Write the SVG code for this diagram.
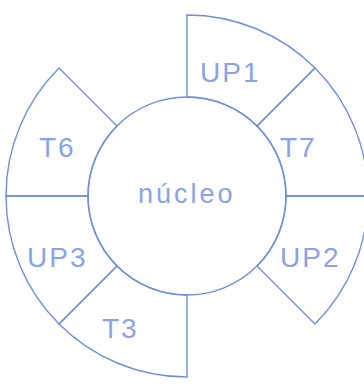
<svg xmlns="http://www.w3.org/2000/svg" width="364" height="385" viewBox="0 0 364 385">
<style>
.s{fill:none;stroke:#6e8fdc;stroke-width:1.4}
.t{font-family:"Liberation Sans",Arial,sans-serif;font-size:28px;fill:#8aa3e4;letter-spacing:2px}
</style>
<rect width="364" height="385" fill="#fff"/>
<g id="connectors"></g>
<g id="nucleo"><circle class="s" cx="187" cy="196" r="99"/><text class="t" x="138" y="203" style="font-size:27px;letter-spacing:3px">núcleo</text></g>
<g id="UP1"><path class="s" d="M187,97 L187,15 A181 181 0 0 1 315,68 L257,126 A99 99 0 0 0 187,97 Z"/><text class="t" x="200" y="82">UP1</text></g>
<g id="T7"><path class="s" d="M257,126 L315,68 A181 181 0 0 1 368,196 L286,196 A99 99 0 0 0 257,126 Z"/><text class="t" x="280" y="157">T7</text></g>
<g id="UP2"><path class="s" d="M286,196 L368,196 A181 181 0 0 1 315,324 L257,266 A99 99 0 0 0 286,196 Z"/><text class="t" x="280" y="267">UP2</text></g>
<g id="T3"><path class="s" d="M187,295 L187,377 A181 181 0 0 1 59,324 L117,266 A99 99 0 0 0 187,295 Z"/><text class="t" x="102" y="338">T3</text></g>
<g id="UP3"><path class="s" d="M117,266 L59,324 A181 181 0 0 1 6,196 L88,196 A99 99 0 0 0 117,266 Z"/><text class="t" x="27" y="267">UP3</text></g>
<g id="T6"><path class="s" d="M88,196 L6,196 A181 181 0 0 1 59,68 L117,126 A99 99 0 0 0 88,196 Z"/><text class="t" x="39" y="157">T6</text></g>
</svg>
